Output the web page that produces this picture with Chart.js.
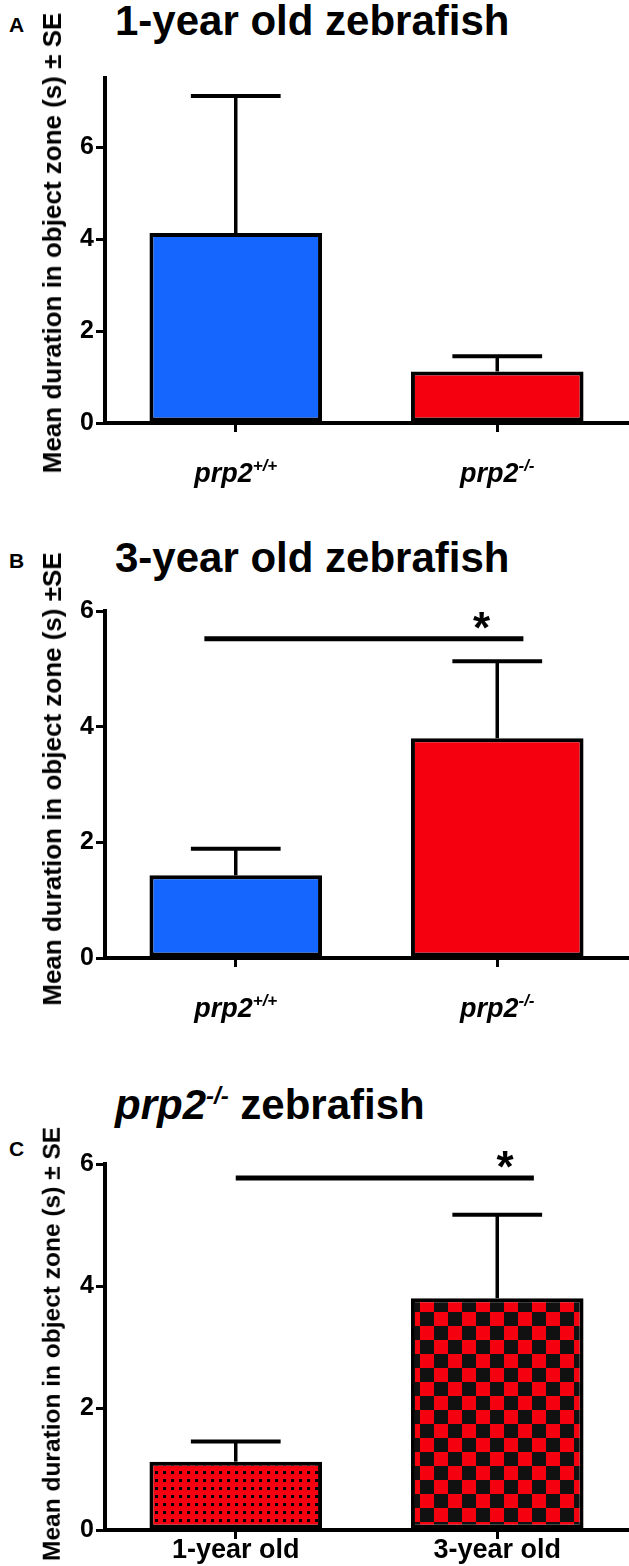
<!DOCTYPE html>
<html><head><meta charset="utf-8">
<script src="https://cdn.jsdelivr.net/npm/chart.js@4.4.1/dist/chart.umd.min.js"></script>
<style>
body{margin:0;background:#fff;width:629px;height:1566px;position:relative;overflow:hidden;font-family:"Liberation Sans",Arial,sans-serif;color:#000;}
canvas{position:absolute;left:0;}
.letter{position:absolute;font-weight:bold;font-size:21px;line-height:1;}
.title{position:absolute;font-weight:bold;font-size:42px;line-height:1;white-space:nowrap;}
.title sup{font-size:24px;vertical-align:15px;line-height:0;}
.ytitle{position:absolute;font-weight:bold;font-size:26px;line-height:1;white-space:nowrap;transform:translate(-50%,-50%) rotate(-90deg);}
.xlab{position:absolute;width:220px;text-align:center;font-weight:bold;font-size:27px;line-height:1;white-space:nowrap;}
.xlab sup{font-size:17px;vertical-align:11px;line-height:0;}
</style></head><body>
<script>
// ---------------- data ----------------
const categoriesA = ['prp2+/+', 'prp2-/-'];
const meansA = [4.13, 1.12];
const seA = [2.98, 0.33];
const yTicksA = [0, 2, 4, 6];
const yMaxA = 7.5;

const categoriesB = ['prp2+/+', 'prp2-/-'];
const meansB = [1.43, 3.80];
const seB = [0.46, 1.33];
const yTicksB = [0, 2, 4, 6];
const yMaxB = 6;
const sigB = { from: -0.12, to: 1.1, level: 5.52, starAt: 0.94, text: '*' };

const categoriesC = ['1-year old', '3-year old'];
const meansC = [1.12, 3.80];
const seC = [0.33, 1.37];
const yTicksC = [0, 2, 4, 6];
const yMaxC = 6;
const sigC = { from: 0, to: 1.14, level: 5.77, starAt: 1.03, text: '*' };

const yTitleA = 'Mean duration in object zone (s) \u00b1 SE';
const yTitleB = 'Mean duration in object zone (s) \u00b1SE';
const yTitleC = 'Mean duration in object zone (s) \u00b1 SE';

// ---------------- styles ----------------
const BLUE = '#1565ff';
const RED = '#f5000e';
const FONT = '"Liberation Sans", Arial, sans-serif';

function dotPattern(ctx) {
  const c = document.createElement('canvas'); c.width = 8; c.height = 8;
  const g = c.getContext('2d');
  g.fillStyle = RED; g.fillRect(0, 0, 8, 8);
  g.fillStyle = '#000'; g.fillRect(3, 3, 3, 3);
  return ctx.createPattern(c, 'repeat');
}
function checkPattern(ctx) {
  const s = 14;
  const c = document.createElement('canvas'); c.width = 2 * s; c.height = 2 * s;
  const g = c.getContext('2d');
  g.fillStyle = RED; g.fillRect(0, 0, 2 * s, 2 * s);
  g.fillStyle = '#111'; g.fillRect(0, 0, s, s); g.fillRect(s, s, s, s);
  return ctx.createPattern(c, 'repeat');
}

const errorBars = {
  id: 'errorBars',
  afterDatasetsDraw(chart, args, opts) {
    const ctx = chart.ctx, y = chart.scales.y;
    const meta = chart.getDatasetMeta(0), ds = chart.data.datasets[0];
    ctx.save(); ctx.strokeStyle = '#000'; ctx.lineCap = 'butt';
    meta.data.forEach((bar, i) => {
      const top = y.getPixelForValue(ds.data[i] + opts.errors[i]);
      const half = bar.width * 0.26;
      ctx.lineWidth = 3.5;
      ctx.beginPath(); ctx.moveTo(bar.x, bar.y); ctx.lineTo(bar.x, top); ctx.stroke();
      ctx.lineWidth = 4;
      ctx.beginPath(); ctx.moveTo(bar.x - half, top); ctx.lineTo(bar.x + half, top); ctx.stroke();
    });
    ctx.restore();
  }
};

const sigBracket = {
  id: 'sigBracket',
  afterDraw(chart, args, opts) {
    if (!opts || opts.level === undefined) return;
    const ctx = chart.ctx, x = chart.scales.x, y = chart.scales.y;
    const yy = y.getPixelForValue(opts.level);
    ctx.save();
    ctx.strokeStyle = '#000'; ctx.lineWidth = 5;
    ctx.beginPath(); ctx.moveTo(x.getPixelForValue(opts.from), yy); ctx.lineTo(x.getPixelForValue(opts.to), yy); ctx.stroke();
    ctx.fillStyle = '#000'; ctx.font = 'bold 44px ' + FONT;
    ctx.textAlign = 'center'; ctx.textBaseline = 'alphabetic';
    ctx.fillText(opts.text, x.getPixelForValue(opts.starAt), yy + 4);
    ctx.restore();
  }
};

function el(cls, html, left, top) {
  const d = document.createElement('div');
  d.className = cls; d.innerHTML = html;
  d.style.left = left + 'px'; d.style.top = top + 'px';
  document.body.appendChild(d);
  return d;
}
function labelHTML(cat) {
  const m = cat.match(/^(prp2)(.*)$/);
  return m ? '<i>' + m[1] + '<sup>' + m[2] + '</sup></i>' : cat;
}

function makePanel(p) {
  const cv = document.createElement('canvas');
  cv.width = 629; cv.height = p.height; cv.style.top = p.top + 'px';
  document.body.appendChild(cv);
  const ctx = cv.getContext('2d');
  const fills = p.fills(ctx);
  const chart = new Chart(ctx, {
    type: 'bar',
    data: { labels: p.categories, datasets: [{ data: p.means, backgroundColor: fills, borderColor: '#000', borderWidth: 4, borderSkipped: false, barPercentage: 0.66, categoryPercentage: 1 }] },
    options: {
      responsive: false, animation: false, devicePixelRatio: 1,
      layout: { padding: { top: p.padTop, left: 0, right: 1, bottom: 0 } },
      plugins: { legend: { display: false }, tooltip: { enabled: false }, errorBars: { errors: p.se }, sigBracket: p.sig || {} },
      scales: {
        x: {
          grid: { display: true, offset: false, drawOnChartArea: false, drawTicks: true, tickLength: 9, color: '#000', lineWidth: 3 },
          border: { display: true, color: '#000', width: 4 },
          ticks: { display: false },
          afterFit(s) { s.height = p.xAxisH; }
        },
        y: {
          min: 0, max: p.yMax,
          grid: { drawOnChartArea: false, drawTicks: true, tickLength: 9, color: '#000', lineWidth: 3 },
          border: { display: true, color: '#000', width: 4 },
          ticks: { color: '#000', padding: 2, font: { family: FONT, size: 25, weight: 'bold' } },
          afterBuildTicks(s) { s.ticks = p.yTicks.map(v => ({ value: v })); },
          afterFit(s) { s.width = 105; }
        }
      }
    },
    plugins: [errorBars, sigBracket]
  });
  const ca = chart.chartArea;
  const yt = el('ytitle', p.yTitle, 52, p.top + (ca.top + ca.bottom) / 2 + p.yTitleShift);
  if (p.yTitleSize) yt.style.fontSize = p.yTitleSize + 'px';
  p.categories.forEach((c, i) => {
    const px = chart.scales.x.getPixelForValue(i);
    el('xlab', labelHTML(c), px - 110, p.top + ca.bottom + p.labOff);
  });
  return chart;
}

el('letter', 'A', 9, 14);
el('title', '1-year old zebrafish', 115, 0);
makePanel({ top: 0, height: 500, padTop: 78, xAxisH: 77, categories: categoriesA, means: meansA, se: seA, yTicks: yTicksA, yMax: yMaxA, yTitle: yTitleA, yTitleShift: -8, labOff: 37, fills: () => [BLUE, RED] });

el('letter', 'B', 9, 550);
el('title', '3-year old zebrafish', 115, 537);
makePanel({ top: 530, height: 500, padTop: 81, xAxisH: 72, categories: categoriesB, means: meansB, se: seB, yTicks: yTicksB, yMax: yMaxB, yTitle: yTitleB, yTitleShift: -6, labOff: 37, sig: sigB, fills: () => [BLUE, RED] });

el('letter', 'C', 9, 1138);
el('title', '<i>prp2<sup>-/-</sup></i> zebrafish', 115, 1084);
makePanel({ top: 1060, height: 506, padTop: 104, xAxisH: 36, categories: categoriesC, means: meansC, se: seC, yTicks: yTicksC, yMax: yMaxC, yTitle: yTitleC, yTitleShift: -3, yTitleSize: 24.5, labOff: 6, sig: sigC, fills: (ctx) => [dotPattern(ctx), checkPattern(ctx)] });
</script>
</body></html>
